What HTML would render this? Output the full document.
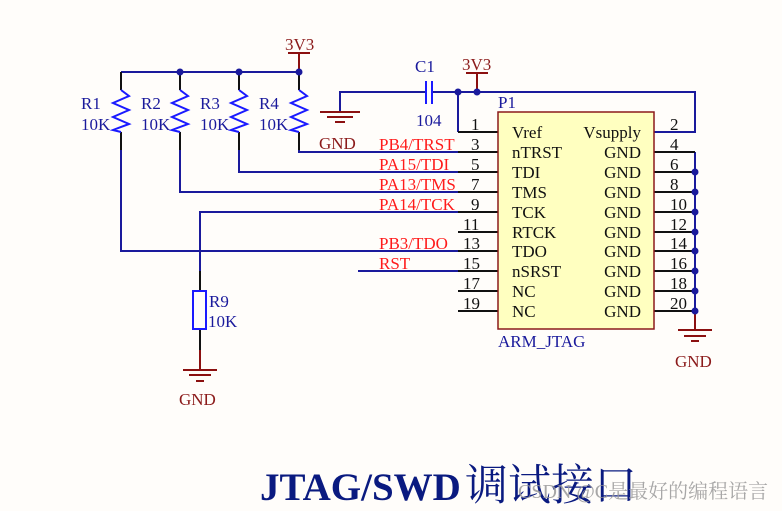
<!DOCTYPE html>
<html><head><meta charset="utf-8"><style>
html,body{margin:0;padding:0;background:#fffdfa;}
svg{display:block}
text{font-family:"Liberation Serif","Noto Serif CJK SC",serif;}
</style></head><body>
<svg width="782" height="511" viewBox="0 0 782 511" xmlns="http://www.w3.org/2000/svg">
<rect width="782" height="511" fill="#fffdfa"/>
<g fill="none" stroke-width="2">
<path d="M121 72 H299" stroke="#1a1a9c"/>
<g stroke="#111">
<path d="M121 72 V90 M121 132 V150"/>
<path d="M180 72 V90 M180 132 V150"/>
<path d="M239 72 V90 M239 132 V150"/>
<path d="M299 72 V90 M299 132 V150"/>
</g>
<g stroke="#1a1aff">
<path d="M121 90 L129 96 L113 103 L129 110 L113 117 L129 124 L113 130 L121 132"/>
<path d="M180 90 L188 96 L172 103 L188 110 L172 117 L188 124 L172 130 L180 132"/>
<path d="M239 90 L247 96 L231 103 L247 110 L231 117 L247 124 L231 130 L239 132"/>
<path d="M299 90 L307 96 L291 103 L307 110 L291 117 L307 124 L291 130 L299 132"/>
</g>
<g stroke="#1a1a9c">
<path d="M299 150 V152 H458"/>
<path d="M239 150 V172 H458"/>
<path d="M180 150 V192 H458"/>
<path d="M121 150 V251 H458"/>
<path d="M200 271 V212 H458"/>
<path d="M358 271 H458"/>
<path d="M340 112 V92 H425"/>
<path d="M432 92 H695 V132 H654"/>
<path d="M458 92 V132"/>
<path d="M695 152 V311"/>
</g>
<path d="M426 81 V104 M432 81 V104" stroke="#1a1aff"/>
<g stroke="#111">
<path d="M458 132 H498 M458 152 H498 M458 172 H498 M458 192 H498 M458 212 H498 M458 232 H498 M458 251 H498 M458 271 H498 M458 291 H498 M458 311 H498"/>
<path d="M654 152 H695 M654 172 H695 M654 192 H695 M654 212 H695 M654 232 H695 M654 251 H695 M654 271 H695 M654 291 H695 M654 311 H695"/>
<path d="M200 271 V291 M200 329 V350"/>
</g>
<rect x="193" y="291" width="13" height="38" stroke="#1a1aff"/>
<g stroke="#8b1010">
<path d="M299 72 V53 M288 53 H310"/>
<path d="M477 92 V73 M466 73 H488"/>
<path d="M320 112 H360 M327 117 H353 M335 122 H345"/>
<path d="M200 350 V370 M183 370 H217 M189 375 H211 M196 381 H204"/>
<path d="M695 311 V330 M678 330 H712 M684 336 H706 M691 341 H699"/>
</g>
</g>
<rect x="498" y="112" width="156" height="217" fill="#ffffc0" stroke="#8b1a1a" stroke-width="1.5"/>
<g fill="#1a1a9c">
<circle cx="180" cy="72" r="3.5"/><circle cx="239" cy="72" r="3.5"/><circle cx="299" cy="72" r="3.5"/>
<circle cx="458" cy="92" r="3.5"/><circle cx="477" cy="92" r="3.5"/>
<circle cx="695" cy="172" r="3.5"/><circle cx="695" cy="192" r="3.5"/><circle cx="695" cy="212" r="3.5"/><circle cx="695" cy="232" r="3.5"/><circle cx="695" cy="251" r="3.5"/><circle cx="695" cy="271" r="3.5"/><circle cx="695" cy="291" r="3.5"/><circle cx="695" cy="311" r="3.5"/>
</g>
<g font-size="17" fill="#1a1a9c">
<text x="81" y="109">R1</text><text x="81" y="130">10K</text>
<text x="141" y="109">R2</text><text x="141" y="130">10K</text>
<text x="200" y="109">R3</text><text x="200" y="130">10K</text>
<text x="259" y="109">R4</text><text x="259" y="130">10K</text>
<text x="415" y="72">C1</text><text x="416" y="126">104</text>
<text x="498" y="108">P1</text>
<text x="498" y="347">ARM_JTAG</text>
<text x="209" y="307">R9</text><text x="208" y="327">10K</text>
</g>
<g font-size="17" fill="#8b1a1a">
<text x="285" y="50">3V3</text><text x="462" y="70">3V3</text>
<text x="319" y="149">GND</text><text x="179" y="405">GND</text><text x="675" y="367">GND</text>
</g>
<g font-size="17" fill="#ff1a1a">
<text x="379" y="150">PB4/TRST</text><text x="379" y="170">PA15/TDI</text><text x="379" y="190">PA13/TMS</text><text x="379" y="210">PA14/TCK</text><text x="379" y="249">PB3/TDO</text><text x="379" y="269">RST</text>
</g>
<g font-size="17" fill="#111">
<text x="471" y="130">1</text><text x="471" y="150">3</text><text x="471" y="170">5</text><text x="471" y="190">7</text><text x="471" y="210">9</text><text x="463" y="230">11</text><text x="463" y="249">13</text><text x="463" y="269">15</text><text x="463" y="289">17</text><text x="463" y="309">19</text>
<text x="670" y="130">2</text><text x="670" y="150">4</text><text x="670" y="170">6</text><text x="670" y="190">8</text><text x="670" y="210">10</text><text x="670" y="230">12</text><text x="670" y="249">14</text><text x="670" y="269">16</text><text x="670" y="289">18</text><text x="670" y="309">20</text>
<text x="512" y="138">Vref</text><text x="512" y="158">nTRST</text><text x="512" y="178">TDI</text><text x="512" y="198">TMS</text><text x="512" y="218">TCK</text><text x="512" y="238">RTCK</text><text x="512" y="257">TDO</text><text x="512" y="277">nSRST</text><text x="512" y="297">NC</text><text x="512" y="317">NC</text>
<g text-anchor="end"><text x="641" y="138">Vsupply</text><text x="641" y="158">GND</text><text x="641" y="178">GND</text><text x="641" y="198">GND</text><text x="641" y="218">GND</text><text x="641" y="238">GND</text><text x="641" y="257">GND</text><text x="641" y="277">GND</text><text x="641" y="297">GND</text><text x="641" y="317">GND</text></g>
</g>
<text x="260" y="500" font-size="39" font-weight="bold" fill="#0a1a80">JTAG/SWD<tspan font-size="43" font-weight="normal" x="465">调试接口</tspan></text>
<text x="518" y="498" font-size="20" fill="#999" font-family="Liberation Sans,Noto Sans CJK SC,sans-serif" opacity="0.85">CSDN @C是最好的编程语言</text>
</svg>
</body></html>
